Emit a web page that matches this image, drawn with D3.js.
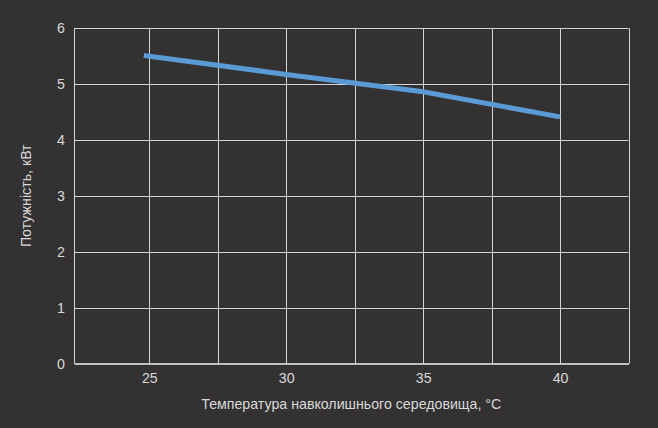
<!DOCTYPE html>
<html>
<head>
<meta charset="utf-8">
<script src="https://cdn.jsdelivr.net/npm/d3@7"></script>
<style>
  html, body { margin: 0; padding: 0; background: #333132; }
  svg { display: block; }
  text { font-family: "Liberation Sans", Arial, sans-serif; fill: #d9d9d9; }
</style>
</head>
<body>
<div class="chart"></div>
<script>
const temps = [24.8, 30, 35, 40]
const power = [5.51, 5.17, 4.86, 4.41]
const xTicks = [25, 30, 35, 40]
const xGrid = [25, 27.5, 30, 32.5, 35, 37.5, 40, 42.5]
const yTicks = [0, 1, 2, 3, 4, 5, 6]
const xTitle = 'Температура навколишнього середовища, °C'
const yTitle = 'Потужність, кВт'

drawChart()

function drawChart() {
  const width = 658
  const height = 428
  const margin = { top: 28, right: 29.5, bottom: 64.5, left: 74 }
  const innerW = width - margin.left - margin.right
  const innerH = height - margin.top - margin.bottom
  const fontSize = 14.2

  const svg = d3.select('.chart')
    .append('svg')
    .attr('width', width)
    .attr('height', height)

  svg.append('rect')
    .attr('width', width)
    .attr('height', height)
    .attr('fill', '#333132')

  const x = d3.scaleLinear().domain([22.25, 42.5]).range([0, innerW])
  const y = d3.scaleLinear().domain([0, 6]).range([innerH, 0])

  const g = svg.append('g')
    .attr('transform', `translate(${margin.left},${margin.top})`)

  // grid
  g.append('g')
    .selectAll('line')
    .data(yTicks.slice(1))
    .enter()
    .append('line')
    .attr('x1', 0)
    .attr('x2', innerW)
    .attr('y1', d => Math.round(y(d)) + 0.5)
    .attr('y2', d => Math.round(y(d)) + 0.5)
    .attr('stroke', '#d4d4d4')

  g.append('g')
    .selectAll('line')
    .data(xGrid)
    .enter()
    .append('line')
    .attr('x1', d => Math.round(x(d)) + 0.5)
    .attr('x2', d => Math.round(x(d)) + 0.5)
    .attr('y1', 0)
    .attr('y2', innerH)
    .attr('stroke', '#d4d4d4')

  g.append('line')
    .attr('x1', 0.5).attr('x2', 0.5)
    .attr('y1', 0).attr('y2', innerH)
    .attr('stroke', '#d4d4d4')

  // axes
  const xAxis = g.append('g')
    .attr('transform', `translate(0,${innerH})`)
    .call(d3.axisBottom(x).tickValues(xTicks).tickFormat(d3.format('d')).tickSize(0).tickPadding(9))
  xAxis.select('.domain').attr('stroke', '#f0f0f0').attr('stroke-width', 1.6)
  xAxis.selectAll('text').attr('font-size', fontSize).attr('fill', '#d9d9d9')

  const yAxis = g.append('g')
    .call(d3.axisLeft(y).tickValues(yTicks).tickFormat(d3.format('d')).tickSize(0).tickPadding(9))
  yAxis.select('.domain').remove()
  yAxis.selectAll('text').attr('font-size', fontSize).attr('fill', '#d9d9d9')

  // line
  const line = d3.line()
    .x((d, i) => x(temps[i]))
    .y(d => y(d))

  g.append('path')
    .datum(power)
    .attr('d', line)
    .attr('fill', 'none')
    .attr('stroke', '#5b9bd5')
    .attr('stroke-width', 5)

  // titles
  svg.append('text')
    .attr('x', margin.left + innerW / 2)
    .attr('y', 409)
    .attr('text-anchor', 'middle')
    .attr('font-size', fontSize)
    .text(xTitle)

  svg.append('text')
    .attr('transform', `translate(31,${margin.top + innerH / 2}) rotate(-90)`)
    .attr('text-anchor', 'middle')
    .attr('font-size', fontSize)
    .text(yTitle)
}
</script>
</body>
</html>
